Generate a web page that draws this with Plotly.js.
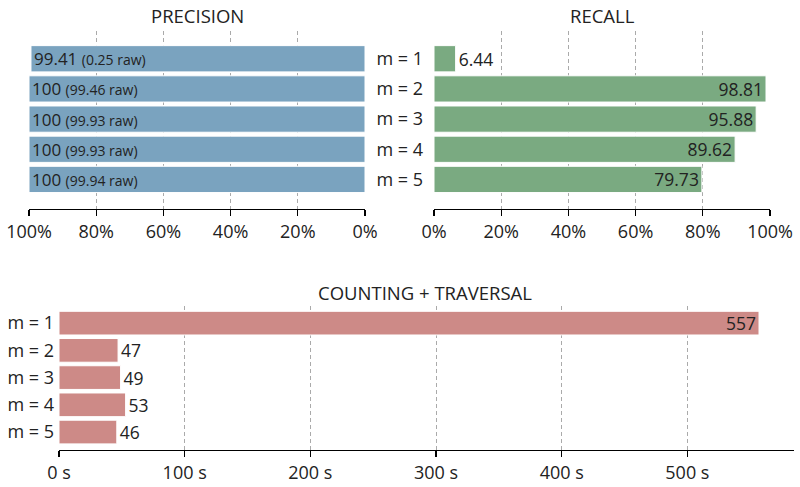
<!DOCTYPE html>
<html>
<head>
<meta charset="utf-8">
<script src="https://cdn.plot.ly/plotly-3.0.1.min.js"></script>
<style>html,body{margin:0;padding:0;background:#fff}#chart{width:800px;height:487px}</style>
</head>
<body>
<div id="chart"></div>
<script>
// ---- data ----
const categories = ["m = 1", "m = 2", "m = 3", "m = 4", "m = 5"];
const precision = [99.41, 100, 100, 100, 100];
const precisionRaw = [0.25, 99.46, 99.93, 99.93, 99.94];
const recall = [6.44, 98.81, 95.88, 89.62, 79.73];
const timeSeconds = [557, 47, 49, 53, 46];
const pctTickVals = [0, 20, 40, 60, 80, 100];
const pctTickText = ["0%", "20%", "40%", "60%", "80%", "100%"];
const secTickVals = [0, 100, 200, 300, 400, 500];
const secTickText = ["0 s", "100 s", "200 s", "300 s", "400 s", "500 s"];
const titles = ["PRECISION", "RECALL", "COUNTING + TRAVERSAL"];

// ---- styles ----
const FONT = "Open Sans, Noto Sans, sans-serif";
const TXT = "#222222";
const GRID = "#aaaaaa";
const W = 800, H = 487;
const px = (a, b) => [a / W, b / W];
const py = (top, bottom) => [1 - bottom / H, 1 - top / H];

const precText = precision.map((v, i) =>
  v + " <span style='font-size:14px'>(" + precisionRaw[i] + " raw)</span>");
const recText = recall.map(v => String(v));
const timeText = timeSeconds.map(v => String(v));

const valFont = {family: FONT, size: 17.5, color: TXT};
const barCommon = {
  type: "bar", orientation: "h", cliponaxis: false, constraintext: "none",
  textfont: valFont, insidetextfont: valFont, outsidetextfont: valFont,
  insidetextanchor: "end",
  hoverinfo: "none"
};

const traces = [
  Object.assign({}, barCommon, {
    x: precision, y: categories, xaxis: "x", yaxis: "y",
    text: precText, textposition: "inside",
    textfont: {family: FONT, size: 17, color: TXT},
    insidetextfont: {family: FONT, size: 17, color: TXT},
    marker: {color: "#7aa3bf", line: {color: "#ffffff", width: 1}}
  }),
  Object.assign({}, barCommon, {
    x: recall, y: categories, xaxis: "x2", yaxis: "y2",
    text: recText, textposition: recall.map(v => v < 15 ? "outside" : "inside"),
    marker: {color: "#7aaa81", line: {color: "#ffffff", width: 1}}
  }),
  Object.assign({}, barCommon, {
    x: timeSeconds, y: categories, xaxis: "x3", yaxis: "y3",
    text: timeText, textposition: timeSeconds.map(v => v > 200 ? "inside" : "outside"),
    marker: {color: "#cd8a87", line: {color: "#ffffff", width: 1}}
  })
];

const xCommon = {
  showgrid: true, gridcolor: GRID, gridwidth: 1, griddash: "4px,3px",
  showline: true, linecolor: "#000", linewidth: 1.3,
  ticks: "outside", ticklen: 6, tickwidth: 1.3, tickcolor: "#000",
  zeroline: false, fixedrange: true,
  tickfont: {family: FONT, size: 18, color: TXT}
};
const yCommon = {
  type: "category", showgrid: false, showline: false, zeroline: false,
  ticks: "", fixedrange: true,
  tickfont: {family: FONT, size: 18, color: TXT}
};

const layout = {
  width: W, height: H,
  margin: {l: 0, r: 0, t: 0, b: 0},
  paper_bgcolor: "#fff", plot_bgcolor: "#fff",
  showlegend: false, bargap: 0.13,
  font: {family: FONT, color: TXT},
  xaxis: Object.assign({}, xCommon, {domain: px(29, 365), range: [100, 0], anchor: "y",
    tickvals: pctTickVals, ticktext: pctTickText}),
  yaxis: Object.assign({}, yCommon, {domain: py(31, 209), range: [4.98, -0.92], anchor: "x",
    showticklabels: false}),
  xaxis2: Object.assign({}, xCommon, {domain: px(434, 770), range: [0, 100], anchor: "y2",
    tickvals: pctTickVals, ticktext: pctTickText}),
  yaxis2: Object.assign({}, yCommon, {domain: py(31, 209), range: [4.98, -0.92], anchor: "x2",
    ticklabelstandoff: 10}),
  xaxis3: Object.assign({}, xCommon, {domain: px(59, 794), range: [0, 584.85], anchor: "y3",
    tickvals: secTickVals, ticktext: secTickText}),
  yaxis3: Object.assign({}, yCommon, {domain: py(306, 450), range: [4.66, -0.63], anchor: "x3",
    ticklabelstandoff: 4}),
  annotations: [
    {text: titles[0], x: (29 + 365) / 2 / W, y: 1 - 15.5 / H},
    {text: titles[1], x: (434 + 770) / 2 / W, y: 1 - 15.5 / H},
    {text: titles[2], x: 425 / W, y: 1 - 292 / H}
  ].map(a => Object.assign(a, {xref: "paper", yref: "paper", xanchor: "center", yanchor: "middle",
    showarrow: false, font: {family: FONT, size: 18.5, color: TXT}}))
};

Plotly.newPlot("chart", traces, layout, {staticPlot: true, displayModeBar: false});
</script>
</body>
</html>
